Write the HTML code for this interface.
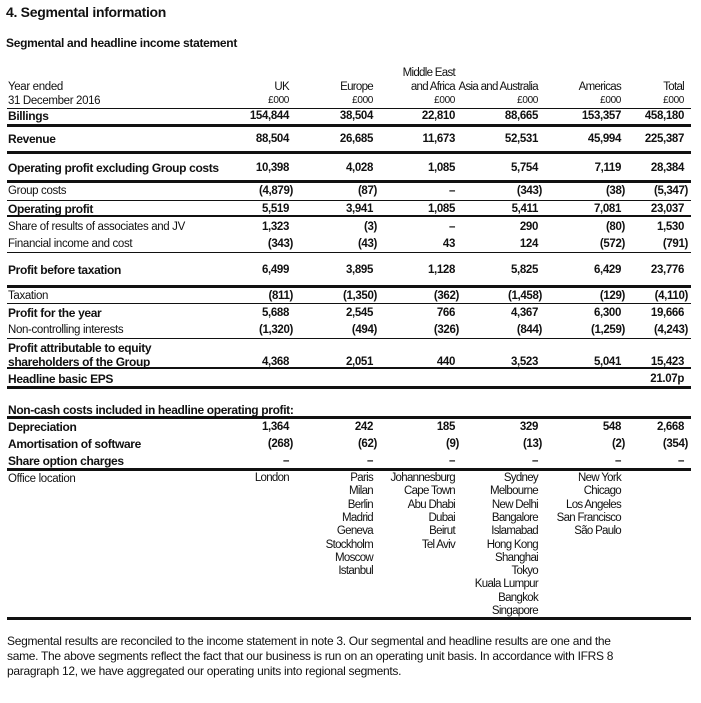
<!DOCTYPE html>
<html><head><meta charset="utf-8">
<style>
body{margin:0;width:701px;height:703px;background:#fff;position:relative;overflow:hidden;font-family:"Liberation Sans",sans-serif;color:#111;}
.t{position:absolute;white-space:nowrap;line-height:14px;font-size:11.5px;letter-spacing:-0.35px;}
.h{letter-spacing:-0.7px;}
.r{text-align:right;}
.b{font-weight:bold;}
.ln{position:absolute;left:7px;width:684px;background:#111;}
</style></head>
<body>
<div class="t b" style="left:6px;top:4px;font-size:14px;line-height:16px;letter-spacing:-0.3px">4. Segmental information</div>
<div class="t b" style="left:6px;top:36px;font-size:12px;letter-spacing:-0.3px">Segmental and headline income statement</div>
<div id="tbl"></div>
<div class="t" style="left:7px;top:634px;font-size:12px;line-height:15px;letter-spacing:-0.3px">Segmental results are reconciled to the income statement in note 3. Our segmental and headline results are one and the<br>same. The above segments reflect the fact that our business is run on an operating unit basis. In accordance with IFRS 8<br>paragraph 12, we have aggregated our operating units into regional segments.</div>
<script>
const columns=["UK","Europe","Middle East and Africa","Asia and Australia","Americas","Total"];
const colRight=[289,373,455,538,621,684];
const rowLabels=["Billings","Revenue","Operating profit excluding Group costs","Group costs","Operating profit","Share of results of associates and JV","Financial income and cost","Profit before taxation","Taxation","Profit for the year","Non-controlling interests","Profit attributable to equity|shareholders of the Group","Headline basic EPS","Non-cash costs included in headline operating profit:","Depreciation","Amortisation of software","Share option charges"];
const rowBold=[1,1,1,0,1,0,0,1,0,1,0,1,1,1,1,1,1];
const rowY=[116,139,168,191,209,227,244,270,296,313,330,362,379,410,427,444,461];
const rowValues=[
["154,844","38,504","22,810","88,665","153,357","458,180"],
["88,504","26,685","11,673","52,531","45,994","225,387"],
["10,398","4,028","1,085","5,754","7,119","28,384"],
["(4,879)","(87)","–","(343)","(38)","(5,347)"],
["5,519","3,941","1,085","5,411","7,081","23,037"],
["1,323","(3)","–","290","(80)","1,530"],
["(343)","(43)","43","124","(572)","(791)"],
["6,499","3,895","1,128","5,825","6,429","23,776"],
["(811)","(1,350)","(362)","(1,458)","(129)","(4,110)"],
["5,688","2,545","766","4,367","6,300","19,666"],
["(1,320)","(494)","(326)","(844)","(1,259)","(4,243)"],
["4,368","2,051","440","3,523","5,041","15,423"],
["","","","","","21.07p"],
["","","","","",""],
["1,364","242","185","329","548","2,668"],
["(268)","(62)","(9)","(13)","(2)","(354)"],
["–","–","–","–","–","–"]];
const offices=[["London"],["Paris","Milan","Berlin","Madrid","Geneva","Stockholm","Moscow","Istanbul"],["Johannesburg","Cape Town","Abu Dhabi","Dubai","Beirut","Tel Aviv"],["Sydney","Melbourne","New Delhi","Bangalore","Islamabad","Hong Kong","Shanghai","Tokyo","Kuala Lumpur","Bangkok","Singapore"],["New York","Chicago","Los Angeles","San Francisco","São Paulo"]];
const rules=[[108,1],[124,3],[151,3],[180,3],[200,1],[215,2],[252,1],[285,3],[303,1],[338,1],[367,2],[386,3],[416,3],[468,3],[617,3]];
const T=document.getElementById('tbl');
function txt(s,x,y,cls,right){const d=document.createElement('div');d.className='t '+cls;d.textContent=s;d.style.top=(y-7)+'px';if(right){d.style.right=(701-x)+'px';}else{d.style.left=x+'px';}T.appendChild(d);return d;}
rules.forEach(r=>{const d=document.createElement('div');d.className='ln';d.style.top=r[0]+'px';d.style.height=r[1]+'px';


T.appendChild(d);});
let h;
h=txt("Year ended",8,87,'',false);


h=txt("31 December 2016",8,101,'',false);


const hdr=[["UK"],["Europe"],["Middle East","and Africa"],["Asia and Australia"],["Americas"],["Total"]];
hdr.forEach((lines,i)=>{lines.forEach((s,j)=>{const y=87-(lines.length-1-j)*14;h=txt(s,colRight[i],y,'h',true);


});
h=txt("£000",colRight[i],101,'',true);h.style.fontSize='10px';


});
rowLabels.forEach((lab,i)=>{const parts=lab.split('|');parts.forEach((p,j)=>{const y=rowY[i]-(parts.length-1-j)*14;const d=txt(p,8,y,rowBold[i]?'b':'',false);if(rowBold[i])d.style.fontSize='12px';


});
rowValues[i].forEach((v,c)=>{if(!v)return;const paren=v[0]==='(';const d=txt(v,colRight[c]+(paren?4:0),rowY[i],'b',true);


});});
h=txt("Office location",8,479,'',false);


offices.forEach((list,c)=>{list.forEach((s,j)=>{const d=txt(s,colRight[c],478+j*13.3,'h',true);


});});
</script>
</body></html>
